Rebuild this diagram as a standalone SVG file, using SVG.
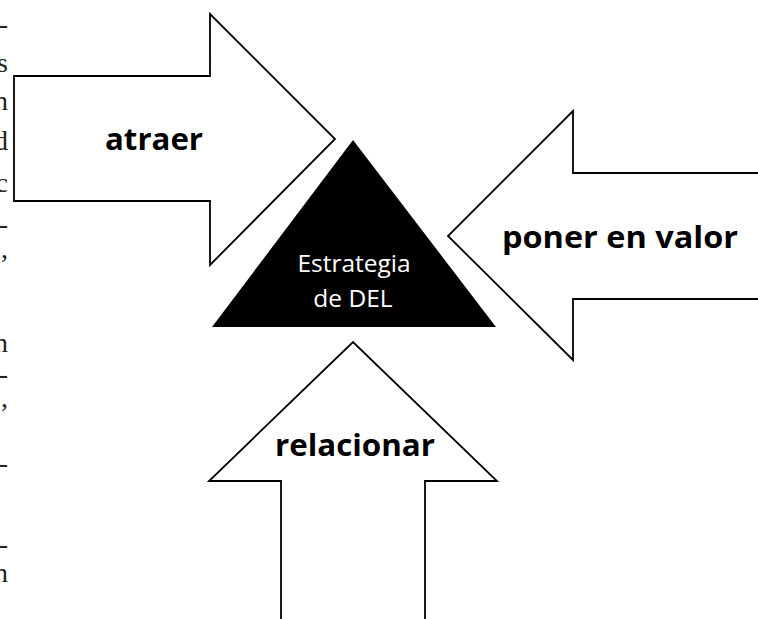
<svg xmlns="http://www.w3.org/2000/svg" width="758" height="619" viewBox="0 0 758 619">
<style>
.arrow{fill:#fff;stroke:#000;stroke-width:1.8;stroke-linejoin:miter}
.lbl{font-family:"Open Sans","Noto Sans","Liberation Sans",sans-serif;font-weight:bold;font-size:31px;fill:#000}
.tri{font-family:"Open Sans","Noto Sans","Liberation Sans",sans-serif;font-size:24.5px;fill:#fff;text-anchor:middle}
.page{font-family:"Liberation Serif","Times New Roman",serif;font-size:28px;fill:#222;text-anchor:end}
</style>
<rect width="758" height="619" fill="#fff"/>
<g id="page-margin-text">
<text class="page" x="8" y="33">-</text>
<text class="page" x="8" y="72">s</text>
<text class="page" x="8" y="110">n</text>
<text class="page" x="8" y="150">d</text>
<text class="page" x="8" y="192">c</text>
<text class="page" x="8" y="233">-</text>
<text class="page" x="8" y="258">,</text>
<text class="page" x="8" y="352">n</text>
<text class="page" x="8" y="383">-</text>
<text class="page" x="8" y="407">,</text>
<text class="page" x="8" y="472">-</text>
<text class="page" x="8" y="553">-</text>
<text class="page" x="8" y="582">n</text>
</g>
<g id="connectors"></g>
<g id="atraer">
<polygon class="arrow" points="14,76 210,76 210,14 335,139 210,265 210,201 14,201"/>
<text class="lbl" x="105" y="150" textLength="98" lengthAdjust="spacingAndGlyphs">atraer</text>
</g>
<g id="poner-en-valor">
<polygon class="arrow" points="775,173 573,173 573,111 448,236 573,360 573,299 775,299"/>
<text class="lbl" x="502" y="248" textLength="236" lengthAdjust="spacingAndGlyphs">poner en valor</text>
</g>
<g id="relacionar">
<polygon class="arrow" points="281,640 281,481 209,481 353,342 497,481 425,481 425,640"/>
<text class="lbl" x="275" y="456" textLength="160" lengthAdjust="spacingAndGlyphs">relacionar</text>
</g>
<g id="estrategia-de-del">
<polygon points="353,140 212,327 496,327" fill="#000"/>
<text class="tri" x="354" y="272">Estrategia</text>
<text class="tri" x="353" y="307">de DEL</text>
</g>
</svg>
